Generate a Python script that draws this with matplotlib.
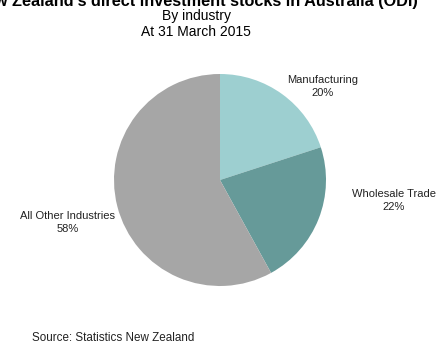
import matplotlib.pyplot as plt

plt.rcParams['font.family'] = ['Liberation Sans', 'DejaVu Sans']

industries = ["Manufacturing", "Wholesale Trade", "All Other Industries"]
shares = [20, 22, 58]
colors = ["#9dcfd0", "#669a99", "#a6a6a6"]
# label centres, in pie-radius units
label_xy = [(0.97, 0.88), (1.64, -0.19), (-1.44, -0.40)]

W, H = 438, 343
fig = plt.figure(figsize=(W / 100, H / 100), dpi=100)

cx, cy, r = 220, 163, 106
ax = fig.add_axes([(cx - r) / W, (cy - r) / H, 2 * r / W, 2 * r / H])
ax.pie(shares, colors=colors, startangle=90, counterclock=False, radius=1,
       wedgeprops=dict(linewidth=0))
ax.set_xlim(-1, 1)
ax.set_ylim(-1, 1)
ax.set_aspect('equal')
ax.axis('off')

for name, val, (x, y) in zip(industries, shares, label_xy):
    ax.text(x, y, f"{name}\n{val}%", ha='center', va='center', fontsize=8,
            color='#222222', linespacing=1.35, clip_on=False)

# title is cut off by the figure edge in the original
tx = 196 / W
fig.text(tx, 1 - 6 / H, "New Zealand's direct investment stocks in Australia (ODI)",
         ha='center', va='baseline', fontsize=11.7, fontweight='bold')
fig.text(tx, 1 - 16 / H, "By industry", ha='center', va='center', fontsize=10)
fig.text(tx, 1 - 32 / H, "At 31 March 2015", ha='center', va='center', fontsize=10)
fig.text(32 / W, 1 - 341 / H, "Source: Statistics New Zealand", ha='left',
         va='baseline', fontsize=8.4, color='#222222')

fig.savefig("out.png", dpi=100)
